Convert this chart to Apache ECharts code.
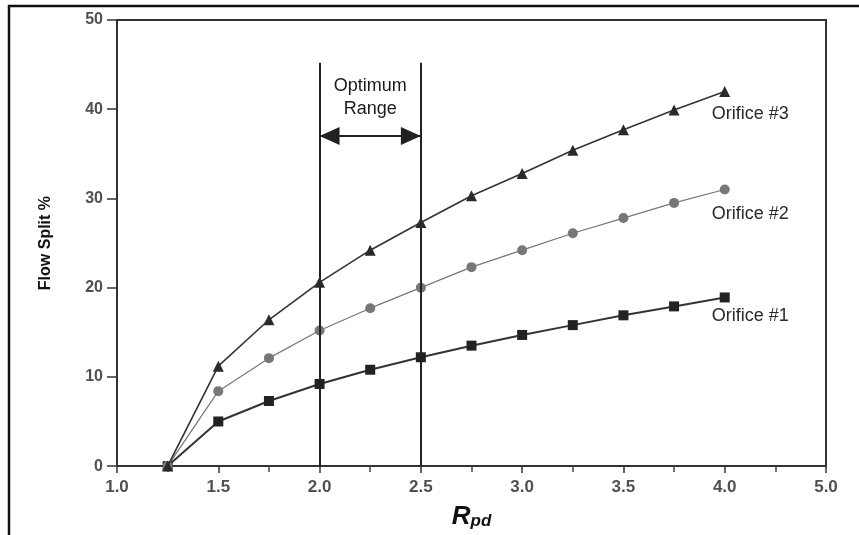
<!DOCTYPE html>
<html>
<head>
<meta charset="utf-8">
<script src="https://cdn.jsdelivr.net/npm/echarts@6/dist/echarts.min.js"></script>
<style>
html,body{margin:0;padding:0;background:#fff;}
#c{width:859px;height:535px;}
</style>
</head>
<body>
<div id="c"></div>
<script>
// ---- data ----
var rpd = [1.25, 1.5, 1.75, 2.0, 2.25, 2.5, 2.75, 3.0, 3.25, 3.5, 3.75, 4.0];
var orifice3 = [0, 11.2, 16.4, 20.6, 24.2, 27.3, 30.3, 32.8, 35.4, 37.7, 39.9, 42.0];
var orifice2 = [0, 8.4, 12.1, 15.2, 17.7, 20.0, 22.3, 24.2, 26.1, 27.8, 29.5, 31.0];
var orifice1 = [0, 5.0, 7.3, 9.2, 10.8, 12.2, 13.5, 14.7, 15.8, 16.9, 17.9, 18.9];
var seriesNames = ['Orifice #3', 'Orifice #2', 'Orifice #1'];
var xTickValues = [1.0, 1.5, 2.0, 2.5, 3.0, 3.5, 4.0, 4.5];
var xTickLabels = ['1.0', '1.5', '2.0', '2.5', '3.0', '3.5', '4.0', '5.0'];
var yTickLabels = ['0', '10', '20', '30', '40', '50'];
var optimumRange = [2.0, 2.5];
var optimumLineTop = 45.2;
var optimumArrowY = 37.0;
var optimumLabelPos = [2.25, 41.3];
var optimumText = 'Optimum\nRange';

var FONT = '"Liberation Sans", Arial, Helvetica, sans-serif';

function pairs(xs, ys) {
  return xs.map(function (x, i) { return [x, ys[i]]; });
}
function withEndLabel(xs, ys, name, offset) {
  var d = pairs(xs, ys);
  var last = d.length - 1;
  d[last] = {
    value: d[last],
    label: {
      show: true, formatter: name, position: 'inside', align: 'left', verticalAlign: 'middle',
      offset: offset, color: '#2a2a2a', fontSize: 18, fontFamily: FONT
    }
  };
  return d;
}

var chart = echarts.init(document.getElementById('c'), null, {renderer: 'canvas'});
var option = {
  animation: false,
  backgroundColor: '#fff',
  grid: {left: 117, right: 33, top: 20, bottom: 66, show: true, borderColor: '#333', borderWidth: 2, backgroundColor: 'transparent'},
  xAxis: {
    type: 'value', min: 1.0, max: 4.5, interval: 0.5,
    axisLine: {show: true, onZero: false, lineStyle: {color: '#333', width: 2}},
    axisTick: {show: true, length: 7, lineStyle: {color: '#333', width: 1.5}},
    minorTick: {show: true, splitNumber: 2, length: 6, lineStyle: {color: '#444', width: 1.5}},
    splitLine: {show: false},
    axisLabel: {
      margin: 13, color: '#505050', fontWeight: 'bold', fontSize: 17, fontFamily: FONT,
      formatter: function (v) {
        for (var i = 0; i < xTickValues.length; i++) {
          if (Math.abs(xTickValues[i] - v) < 1e-6) return xTickLabels[i];
        }
        return '';
      }
    },
    name: '{R|R}{s|pd}', nameLocation: 'middle', nameGap: 32,
    nameTextStyle: {
      rich: {
        R: {fontSize: 26, fontWeight: 'bold', fontStyle: 'italic', color: '#111', fontFamily: FONT, lineHeight: 30, verticalAlign: 'bottom'},
        s: {fontSize: 17, fontWeight: 'bold', fontStyle: 'italic', color: '#111', fontFamily: FONT, lineHeight: 17, verticalAlign: 'bottom', padding: [12, 0, 0, 0]}
      }
    }
  },
  yAxis: {
    type: 'value', min: 0, max: 50, interval: 10,
    axisLine: {show: true, lineStyle: {color: '#333', width: 2}},
    axisTick: {show: true, length: 10, lineStyle: {color: '#333', width: 1.5}},
    splitLine: {show: false},
    axisLabel: {
      margin: 14, color: '#505050', fontWeight: 'bold', fontSize: 16, fontFamily: FONT,
      formatter: function (v) { return yTickLabels[Math.round(v / 10)]; }
    },
    name: 'Flow Split %', nameLocation: 'middle', nameGap: 63,
    nameTextStyle: {fontSize: 16, fontWeight: 'bold', color: '#111', fontFamily: FONT}
  },
  graphic: [
    {type: 'polyline', shape: {points: [[9, 535], [9, 6], [859, 6]]}, style: {stroke: '#111', lineWidth: 2.5, fill: null}, z: 100}
  ],
  series: [
    {
      name: seriesNames[0], type: 'line', data: withEndLabel(rpd, orifice3, seriesNames[0], [-13, 23]),
      symbol: 'triangle', symbolSize: 11, showAllSymbol: true,
      itemStyle: {color: '#2a2a2a'}, lineStyle: {color: '#333', width: 1.6}, z: 5
    },
    {
      name: seriesNames[1], type: 'line', data: withEndLabel(rpd, orifice2, seriesNames[1], [-13, 25]),
      symbol: 'circle', symbolSize: 10, showAllSymbol: true,
      itemStyle: {color: '#777'}, lineStyle: {color: '#777', width: 1.2}, z: 4
    },
    {
      name: seriesNames[2], type: 'line', data: withEndLabel(rpd, orifice1, seriesNames[2], [-13, 19]),
      symbol: 'rect', symbolSize: 10, showAllSymbol: true,
      itemStyle: {color: '#222'}, lineStyle: {color: '#333', width: 2}, z: 3
    },
    {
      name: 'optimum', type: 'scatter', data: [optimumLabelPos], symbolSize: 0, silent: true,
      itemStyle: {opacity: 1},
      label: {show: true, position: 'inside', formatter: optimumText, color: '#1a1a1a', fontSize: 18, lineHeight: 23, fontFamily: FONT},
      markLine: {
        silent: true, animation: false,
        label: {show: false},
        data: [
          [{coord: [optimumRange[0], 0], symbol: 'none'}, {coord: [optimumRange[0], optimumLineTop], symbol: 'none'}],
          [{coord: [optimumRange[1], 0], symbol: 'none'}, {coord: [optimumRange[1], optimumLineTop], symbol: 'none'}],
          [{coord: [optimumRange[0], optimumArrowY], symbol: 'triangle', symbolSize: [18, 20], symbolOffset: [0, 10]},
           {coord: [optimumRange[1], optimumArrowY], symbol: 'triangle', symbolSize: [18, 20], symbolOffset: [0, 10]}]
        ],
        lineStyle: {color: '#222', width: 2, type: 'solid'},
        itemStyle: {color: '#111'}
      }
    }
  ]
};
chart.setOption(option);
</script>
</body>
</html>
